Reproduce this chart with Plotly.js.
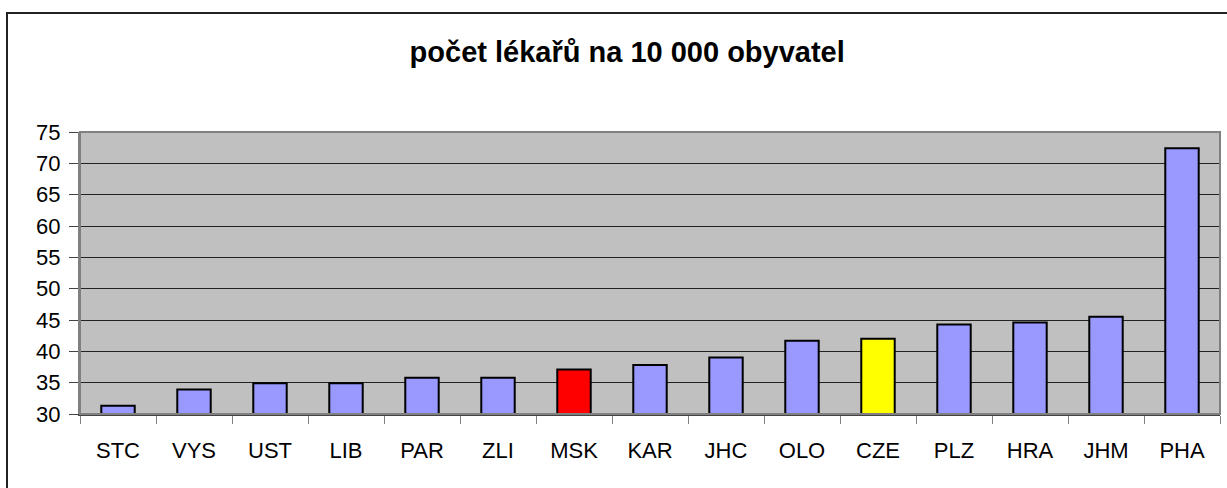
<!DOCTYPE html>
<html>
<head>
<meta charset="utf-8">
<script src="https://cdn.plot.ly/plotly-3.0.1.min.js"></script>
<style>
  html, body { margin: 0; padding: 0; background: #fff; }
  #wrap { position: relative; width: 1227px; height: 488px; overflow: hidden; }
  #chart { width: 1227px; height: 488px; }
  #frame { position: absolute; left: 6px; top: 12px; width: 1240px; height: 500px;
           border-left: 2px solid #222; border-top: 2px solid #222; pointer-events: none; }
</style>
</head>
<body>
<div id="wrap">
  <div id="chart"></div>
  <div id="frame"></div>
</div>
<script>
const categories = ["STC","VYS","UST","LIB","PAR","ZLI","MSK","KAR","JHC","OLO","CZE","PLZ","HRA","JHM","PHA"];
const values = [31.3, 33.9, 34.9, 34.9, 35.8, 35.8, 37.1, 37.8, 39.0, 41.7, 42.0, 44.3, 44.6, 45.5, 72.4];
const barColors = ["#9999ff","#9999ff","#9999ff","#9999ff","#9999ff","#9999ff","#ff0000","#9999ff","#9999ff","#9999ff","#ffff00","#9999ff","#9999ff","#9999ff","#9999ff"];
const yTicks = [30,35,40,45,50,55,60,65,70,75];
const titleText = "počet lékařů na 10 000 obyvatel";

const trace = {
  type: "bar",
  x: categories,
  y: values.map(v => v - 30),
  base: 30,
  marker: { color: barColors, line: { color: "#000", width: 2 } },
  hoverinfo: "skip"
};

const layout = {
  width: 1227, height: 488,
  margin: { l: 80, r: 7, t: 132, b: 74 },
  paper_bgcolor: "#fff",
  plot_bgcolor: "#c0c0c0",
  bargap: 0.56,
  showlegend: false,
  font: { family: "Liberation Sans, Arial, sans-serif", color: "#000" },
  title: {
    text: "<b>" + titleText + "</b>",
    font: { size: 29, family: "Liberation Sans, Arial, sans-serif", color: "#000" },
    x: 0.48, xref: "paper", xanchor: "center",
    y: 0.893, yref: "container", yanchor: "middle"
  },
  xaxis: {
    type: "category",
    range: [-0.5, 14.5],
    tickson: "boundaries",
    ticks: "outside", ticklen: 8, tickcolor: "#808080", tickwidth: 1,
    showline: true, linecolor: "#444", linewidth: 2, mirror: false,
    showgrid: false,
    tickfont: { size: 22 },
    ticklabelstandoff: 16
  },
  yaxis: {
    range: [30, 75],
    tickvals: yTicks,
    ticktext: yTicks.map(String),
    ticks: "outside", ticklen: 9, tickcolor: "#444", tickwidth: 1,
    showline: true, linecolor: "#808080", linewidth: 2,
    showgrid: true, gridcolor: "#222", gridwidth: 1,
    zeroline: false,
    tickfont: { size: 22 },
    ticklabelstandoff: 4
  },
  shapes: [
    { type: "rect", xref: "paper", yref: "paper", x0: 0, x1: 1, y0: 0, y1: 1,
      line: { color: "#808080", width: 2 }, fillcolor: "rgba(0,0,0,0)", layer: "above" }
  ]
};

Plotly.newPlot("chart", [trace], layout, { displayModeBar: false, staticPlot: true });
</script>
</body>
</html>
